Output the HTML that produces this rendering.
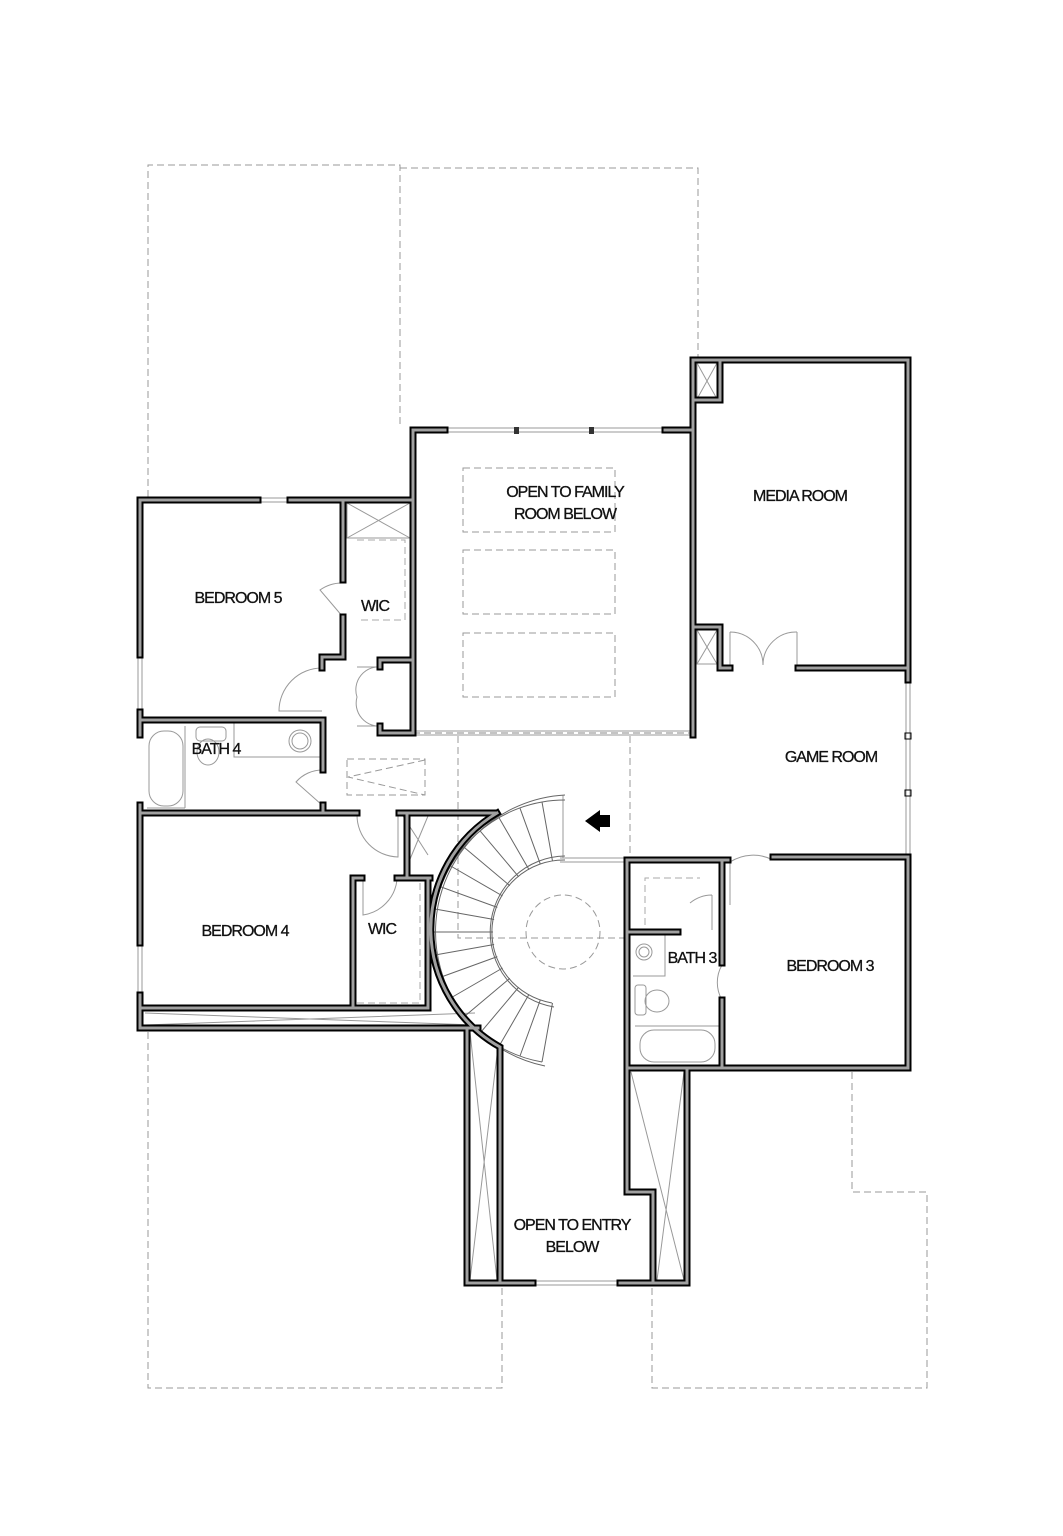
<!DOCTYPE html>
<html><head><meta charset="utf-8"><style>
html,body{margin:0;padding:0;background:#fff}
svg{display:block}
text{font-family:"Liberation Sans Narrow","Liberation Sans",sans-serif;font-size:16px;fill:#111;text-anchor:middle;letter-spacing:-1px;stroke:#111;stroke-width:0.3px}
</style></head><body>
<svg width="1063" height="1536" viewBox="0 0 1063 1536" xmlns="http://www.w3.org/2000/svg">
<rect width="1063" height="1536" fill="#fff"/>
<g fill="none" stroke="#999" stroke-width="1" stroke-dasharray="7,4">
<path d="M148 497 V165 H400 V425"/>
<path d="M400 168 H698 V358"/>
<path d="M148 1032 V1388 H502 V1288"/>
<path d="M652 1288 V1388 H927 V1192 H852 V1072"/>
<rect x="463" y="468" width="152" height="64"/>
<rect x="463" y="550" width="152" height="64"/>
<rect x="463" y="633" width="152" height="64"/>
<path d="M458 736 V938 H627"/>
<path d="M630 736 V858"/>
<circle cx="563" cy="932" r="37"/>
<rect x="347" y="759" width="78" height="36"/>
<path d="M425 760 L348 777 L425 795"/>
<path d="M413 733 H693" stroke="#888"/>
<path d="M357 540 H405 V620 H360" stroke="#aaa"/>
<path d="M357 1003 H420 V880" stroke="#aaa"/>
<path d="M645 925 V878 H700" stroke="#aaa"/>
</g>
<g fill="none" stroke="#999" stroke-width="1">
<path d="M258 498 H290 M258 502 H290"/>
<path d="M445 428 H665 M445 432 H665"/>
<path d="M138 655 V712 M142 655 V712"/>
<path d="M138 943 V995 M142 943 V995"/>
<path d="M906 680 V857 M910 680 V857"/>
<path d="M906 870 V1068 M910 870 V1068"/>
<path d="M533 1281 H620 M533 1285 H620"/>
<path d="M413 731 H693 M413 735 H693"/>
<path d="M560 858 H627 M560 862 H627"/>
<path d="M563 795 V858"/>
<rect x="347" y="503" width="63" height="35"/><path d="M347 503 L410 538 M410 503 L347 538"/>
<rect x="697" y="363" width="20" height="36"/><path d="M697 363 L717 399 M717 363 L697 399"/>
<rect x="697" y="630" width="20" height="34"/><path d="M697 630 L717 664 M717 630 L697 664"/>
<path d="M470 1032 L497 1280 M497 1055 L470 1280"/>
<path d="M631 1072 L684 1280 M684 1072 L657 1280"/>
<path d="M403 816 L428 855 M428 816 L403 876"/>
<path d="M145 1013 L475 1025 M145 1025 L475 1013"/>
<path d="M322 668 A43 43 0 0 0 279 711 H322"/>
<path d="M343 583 A38 38 0 0 0 320 590 L343 617"/>
<path d="M382 667 A23 23 0 0 0 357 697 A23 23 0 0 0 382 726 M357 667 H382 M357 726 H382"/>
<path d="M323 770 A35 35 0 0 0 296 782 L322 805"/>
<path d="M357 815 A42 42 0 0 0 398 857 V815"/>
<path d="M363 878 V915 A40 40 0 0 0 397 880"/>
<path d="M730 632 V668 M797 632 V668 M730 632 A33 33 0 0 1 763 665 A33 33 0 0 1 797 632"/>
<path d="M730 862 V905 M730 862 A43 43 0 0 1 773 860"/>
<path d="M712 895 V930 M712 895 A35 35 0 0 0 690 903"/>
<path d="M722 965 A35 35 0 0 0 722 1000"/>
<rect x="149" y="731" width="34" height="75" rx="15"/>
<path d="M185 726 V808 M147 808 H185"/>
<rect x="196" y="727" width="30" height="14" rx="4"/>
<ellipse cx="208" cy="752" rx="11" ry="13"/>
<path d="M234 722 V757 H320"/>
<circle cx="300" cy="741" r="11"/><circle cx="300" cy="741" r="8"/>
<rect x="640" y="1030" width="75" height="32" rx="14"/>
<path d="M635 1026 H720"/>
<circle cx="644" cy="952" r="8"/><circle cx="644" cy="952" r="5"/>
<path d="M633 976 H665 V932"/>
<rect x="635" y="985" width="11" height="30" rx="3"/>
<ellipse cx="657" cy="1001" rx="12" ry="11"/>
</g>
<g fill="none" stroke="#666" stroke-width="1">
<path d="M542 1062 A132 132 0 0 1 565 800"/>
<path d="M545 1066 A137 137 0 0 1 565 795"/>
<path d="M552 1003 A72 72 0 0 1 565 860"/>
<path d="M554 1007 A76 76 0 0 1 565 856"/>
<path d="M542 1062 L552.5 1003 M520 1056 L540.4 999.7 M499 1046.3 L529 994.4 M480.1 1033.1 L518.7 987.2 M463.9 1016.9 L509.8 978.3 M450.7 998 L502.6 968 M440.9 977.1 L497.3 956.6 M435 955 L494.1 944.5 M433 932 L493 932 M435 909 L494.1 919.5 M440.9 886.9 L497.3 907.4 M450.7 866 L502.6 896 M463.9 847.1 L509.8 885.7 M480.1 830.9 L518.7 876.8 M499 817.7 L529 869.6 M519.9 807.9 L540.4 864.3 M542 802 L552.5 861"/>
</g>
<path d="M600 810 L585 821 L600 832 V827 H610 V815 H600 Z" fill="#000"/>
<defs>
<g id="w">
<path d="M413 430 V500"/>
<path d="M140 500 H258 M290 500 H413 V733 H380 V726 M380 667 V660 H413"/>
<path d="M140 500 V655 M140 712 V735 M140 805 V943 M140 995 V1028 H478"/>
<path d="M343 500 V580 M343 617 V657 H322 V668"/>
<path d="M140 720 H323 V770 M323 805 V813 M140 813 H357 M399 813 H495"/>
<path d="M353 1005 V878 H362 M407 813 V878 M397 878 H430 M428 878 V1008 H140"/>
<path d="M413 430 H445 M665 430 H693"/>
<path d="M693 735 V360 H908 V680 M798 668 H908 M693 400 H720 V360 M693 627 H720 V668 H730"/>
<path d="M497 813 A135 135 0 0 0 500 1047 V1283 H467 V1028 M500 1283 H533"/>
<path d="M627 860 H728 M627 860 V1068 M627 932 H678 M722 860 V963 M722 1000 V1068 M627 1068 H908 M773 857 H908 M908 857 V1068"/>
<path d="M627 1068 V1192 H653 V1283 M620 1283 H687 V1068"/>
</g>
</defs>
<use href="#w" fill="none" stroke="#000" stroke-width="7" stroke-linecap="square"/>
<use href="#w" fill="none" stroke="#a0a0a0" stroke-width="3" stroke-linecap="square"/>
<rect x="514" y="427" width="5" height="7" fill="#333"/>
<rect x="589" y="427" width="5" height="7" fill="#333"/>
<rect x="905" y="733" width="6" height="6" fill="none" stroke="#000"/>
<rect x="905" y="790" width="6" height="6" fill="none" stroke="#000"/>
<text x="238" y="603">BEDROOM 5</text>
<text x="375" y="611">WIC</text>
<text x="216" y="754">BATH 4</text>
<text x="245" y="936">BEDROOM 4</text>
<text x="382" y="934">WIC</text>
<text x="565" y="497">OPEN TO FAMILY</text>
<text x="565" y="519">ROOM BELOW</text>
<text x="800" y="501">MEDIA ROOM</text>
<text x="831" y="762">GAME ROOM</text>
<text x="692" y="963">BATH 3</text>
<text x="830" y="971">BEDROOM 3</text>
<text x="572" y="1230">OPEN TO ENTRY</text>
<text x="572" y="1252">BELOW</text>
</svg>
</body></html>
